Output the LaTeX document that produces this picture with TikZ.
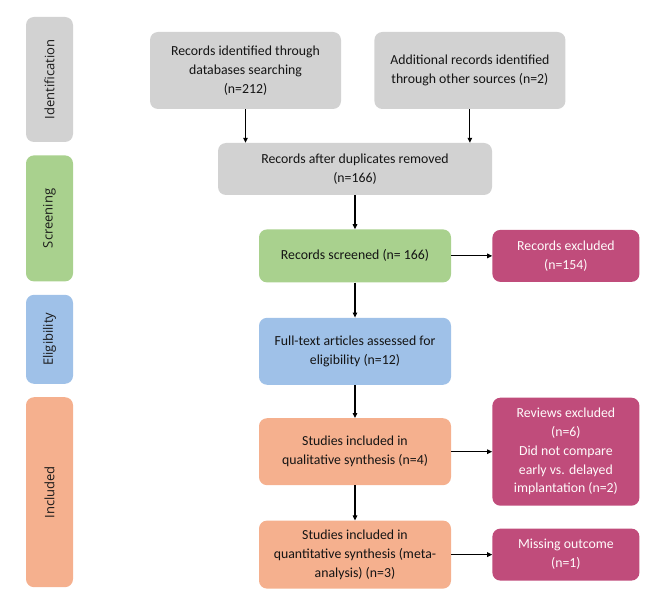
\documentclass[tikz,border=0pt]{standalone}
\usepackage{fontspec}
\setmainfont{Carlito}
\newfontfamily\phasefont{Open Sans}
\usetikzlibrary{arrows.meta,positioning}

\definecolor{greyfill}{HTML}{D2D2D2}
\definecolor{greenfill}{HTML}{A9D18E}
\definecolor{bluefill}{HTML}{9FC1E8}
\definecolor{orangefill}{HTML}{F5B08E}
\definecolor{pinkfill}{HTML}{C04C7B}

\begin{document}
\begin{tikzpicture}[x=1pt,y=-1pt,
  node distance=34pt and 41pt,
  phase/.style={rounded corners=8pt,minimum width=47pt,inner sep=0pt},
  phasetext/.style={rotate=90,font=\phasefont\fontsize{13}{15}\selectfont,text=black!90},
  box/.style={rounded corners=8pt,align=center,inner sep=2pt,font=\fontsize{13.8}{18.8}\selectfont,text=black!92},
  grey/.style={box,fill=greyfill,minimum width=191pt,minimum height=77pt},
  chain/.style={box,minimum width=192pt,minimum height=53pt},
  excl/.style={box,fill=pinkfill,text=white!94!pink,minimum width=147pt,minimum height=52pt},
  arr/.style={-{Triangle[length=5pt,width=4.5pt]},line width=1.1pt}
]
\useasboundingbox (0,0) rectangle (659,604);

% phase bars
\node[phase,fill=greyfill,minimum height=125pt,
  label={[phasetext]center:Identification}] (ident) at (49.5,79.5) {};
\node[phase,fill=greenfill,minimum height=126pt,below=13pt of ident,
  label={[phasetext]center:Screening}] (screen) {};
\node[phase,fill=bluefill,minimum height=89pt,below=13pt of screen,
  label={[phasetext]center:Eligibility}] (elig) {};
\node[phase,fill=orangefill,minimum height=190pt,below=13pt of elig,
  label={[phasetext]center:Included}] (incl) {};

% main flow
\node[grey] (db) at (245.5,70.5) {Records identified through\\databases searching\\(n=212)};
\node[grey,right=33pt of db] (other) {Additional records identified\\through other sources (n=2)};
\node[grey,minimum width=274pt,minimum height=52pt] (dup) at (355,169) {Records after duplicates removed\\(n=166)};
\node[chain,fill=greenfill,below=of dup] (screened) {Records screened (n= 166)};
\node[chain,fill=bluefill,minimum height=67pt,below=35pt of screened] (full) {Full-text articles assessed for\\eligibility (n=12)};
\node[chain,fill=orangefill,minimum height=67pt,below=33pt of full] (qual) {Studies included in\\qualitative synthesis (n=4)};
\node[chain,fill=orangefill,minimum height=68pt,below=35pt of qual] (quant) {Studies included in\\quantitative synthesis (meta-\\analysis) (n=3)};

% exclusions
\node[excl,right=of screened] (recexcl) {Records excluded\\(n=154)};
\node[excl,minimum height=108pt,right=of qual] (revexcl) {Reviews excluded\\(n=6)\\Did not compare\\early vs. delayed\\implantation (n=2)};
\node[excl,right=of quant] (missing) {Missing outcome\\(n=1)};

\draw[arr] (db) -- (db |- dup.north);
\draw[arr] (other) -- (other |- dup.north);
\draw[arr] (dup) -- (screened);
\draw[arr] (screened) -- (full);
\draw[arr] (full) -- (qual);
\draw[arr] (qual) -- (quant);
\draw[arr] (screened) -- (recexcl);
\draw[arr] (qual) -- (revexcl);
\draw[arr] (quant) -- (missing);
\end{tikzpicture}
\end{document}
